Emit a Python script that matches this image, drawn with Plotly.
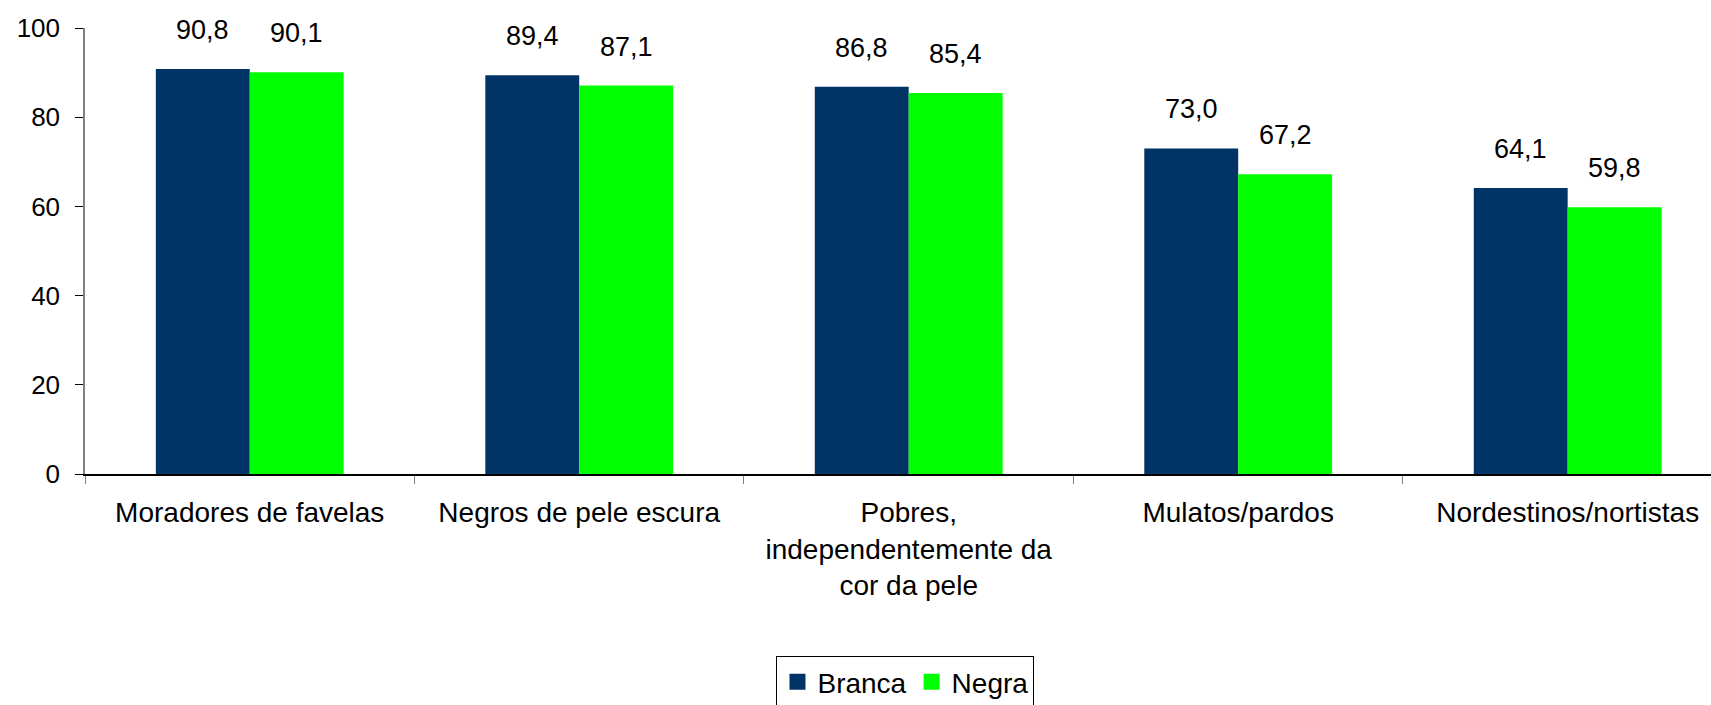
import plotly.graph_objects as go

categories = ["Moradores de favelas", "Negros de pele escura",
              "Pobres,<br>independentemente da<br>cor da pele",
              "Mulatos/pardos", "Nordestinos/nortistas"]
branca = [90.8, 89.4, 86.8, 73.0, 64.1]
negra = [90.1, 87.1, 85.4, 67.2, 59.8]
series_names = ["Branca", "Negra"]
series_colors = ["#003366", "#00FF00"]
y_ticks = [0, 20, 40, 60, 80, 100]

FONT = "Liberation Sans, Arial, sans-serif"

fig = go.Figure()
for name, vals, col in zip(series_names, [branca, negra], series_colors):
    fig.add_trace(go.Bar(x=categories, y=vals, name=name, marker_color=col,
                         marker_line_width=0, showlegend=False))
    # legend entry with larger square symbol
    fig.add_trace(go.Scatter(x=[None], y=[None], mode="markers", name=name,
                             marker=dict(symbol="square", size=16, color=col)))

annotations = []
for vals, shift in [(branca, -47), (negra, 47)]:
    for i, v in enumerate(vals):
        annotations.append(dict(
            x=i, y=v, xref="x", yref="y", text=f"{v:.1f}".replace(".", ","),
            showarrow=False, xshift=shift, yshift=22, yanchor="bottom",
            font=dict(family=FONT, size=27, color="black")))

fig.update_layout(
    width=1711, height=705,
    margin=dict(l=85, r=0, t=28, b=231, autoexpand=False),
    paper_bgcolor="white", plot_bgcolor="white",
    barmode="group", bargap=0.43, bargroupgap=0,
    font=dict(family=FONT, color="black"),
    annotations=annotations,
    legend=dict(orientation="h", x=0.5046, xanchor="center", y=-0.408, yanchor="top",
                bordercolor="black", borderwidth=1, bgcolor="white",
                font=dict(family=FONT, size=28, color="black"),
                itemwidth=30, tracegroupgap=0),
    xaxis=dict(range=[-0.5, 4.435], tickson="boundaries", ticks="outside",
               ticklen=8, tickcolor="#808080", showline=True, linecolor="black",
               linewidth=1.5, showgrid=False, zeroline=False, automargin=False,
               ticklabelstandoff=13,
               tickfont=dict(family=FONT, size=28, color="black")),
    yaxis=dict(range=[0, 100], tickvals=y_ticks, ticks="outside", ticklen=8,
               tickcolor="black", showline=True, linecolor="#808080", linewidth=1.5,
               showgrid=False, zeroline=False, ticklabelstandoff=10, automargin=False,
               tickfont=dict(family=FONT, size=26, color="black")),
)

fig.write_html("out.html", config={"displayModeBar": False},
               post_script="document.body.style.margin='0px';")
